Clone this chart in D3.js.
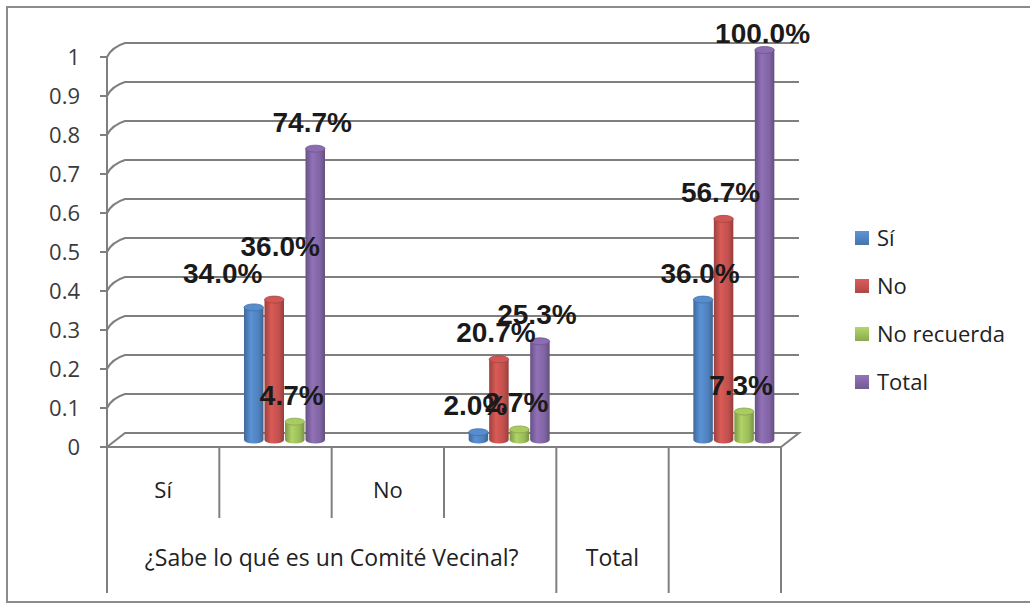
<!DOCTYPE html>
<html>
<head>
<meta charset="utf-8">
<script src="https://cdn.jsdelivr.net/npm/d3@7"></script>
<style>
  html, body { margin: 0; padding: 0; background: #fff; }
  svg { display: block; }
</style>
</head>
<body>
<svg id="chart" width="1030" height="606"></svg>
<script>
// Categories along the x axis (two-level axis: answer, then question group)
const categories = ["c1", "c2", "c3", "c4", "c5", "c6"];
const level1Labels = ["Sí", "", "No", "", "", ""];
const level2Groups = [
  { label: "¿Sabe lo qué es un Comité Vecinal?", from: 0, to: 3 },
  { label: "Total", from: 4, to: 4 },
  { label: "", from: 5, to: 5 }
];

// Series
const seriesNames = ["Sí", "No", "No recuerda", "Total"];
const seriesColors = ["#4f81bd", "#c0504d", "#9bbb59", "#8064a2"];

// Values per category (categories without data are null)
const valuesSi         = [null, 0.340, null, 0.020, null, 0.360];
const valuesNo         = [null, 0.360, null, 0.207, null, 0.567];
const valuesNoRecuerda = [null, 0.047, null, 0.027, null, 0.073];
const valuesTotal      = [null, 0.747, null, 0.253, null, 1.000];
const seriesValues = [valuesSi, valuesNo, valuesNoRecuerda, valuesTotal];

const yTicks = [0, 0.1, 0.2, 0.3, 0.4, 0.5, 0.6, 0.7, 0.8, 0.9, 1];
const yTickLabels = ["0", "0.1", "0.2", "0.3", "0.4", "0.5", "0.6", "0.7", "0.8", "0.9", "1"];

const svg = d3.select("#chart");

// Outer chart frame
svg.append("rect")
  .attr("x", 7).attr("y", 7).attr("width", 1040).attr("height", 595)
  .attr("fill", "#fff").attr("stroke", "#8c8c8c").attr("stroke-width", 2);

// 3D layout: front plane and depth offset
const depth = { dx: 18, dy: -14 };
const x = d3.scaleBand().domain(categories).range([107, 781]);
const y = d3.scaleLinear().domain([0, 1]).range([447, 57]);
const gridColor = "#7f7f7f";

// Walls: gridlines running over the side wall and the back wall
const grid = svg.append("g").attr("fill", "none").attr("stroke", gridColor).attr("stroke-width", 2);
yTicks.forEach(t => {
  if (t === 0) return;
  const yf = y(t);
  grid.append("path")
    .attr("d", `M${x.range()[0] - 7},${yf} L${x.range()[0]},${yf} Q${x.range()[0] + 5},${yf - 10} ${x.range()[0] + depth.dx},${yf + depth.dy} L${x.range()[1] + depth.dx},${yf + depth.dy}`);
});

// Floor
const x0 = x.range()[0], x1 = x.range()[1], yb = y(0);
svg.append("path")
  .attr("d", `M${x0},${yb} L${x0 + depth.dx},${yb + depth.dy} L${x1 + depth.dx},${yb + depth.dy} L${x1},${yb} Z`)
  .attr("fill", "#fff").attr("stroke", gridColor).attr("stroke-width", 2);
svg.append("line")
  .attr("x1", x0 - 7).attr("x2", x0).attr("y1", yb).attr("y2", yb)
  .attr("stroke", gridColor).attr("stroke-width", 2);

// Category axis dividers
const catAxis = svg.append("g").attr("stroke", gridColor).attr("stroke-width", 2);
const level1Bottom = 518, level2Bottom = 593;
const boundaries = categories.map(c => x(c)).concat([x1]);
boundaries.forEach((bx, i) => {
  const fullHeight = level2Groups.some(g => g.from === i || g.to + 1 === i) || i === 0 || i === categories.length;
  catAxis.append("line")
    .attr("x1", bx).attr("x2", bx)
    .attr("y1", yb).attr("y2", fullHeight ? level2Bottom : level1Bottom);
});
// Value axis line
svg.append("line")
  .attr("x1", x0).attr("x2", x0).attr("y1", y(1)).attr("y2", yb)
  .attr("stroke", gridColor).attr("stroke-width", 2);

const font = "'Open Sans', 'Liberation Sans', sans-serif";

// Value axis labels
svg.append("g").selectAll("text").data(yTicks).join("text")
  .attr("x", 80).attr("y", d => y(d) + 8)
  .attr("text-anchor", "end")
  .attr("font-family", font).attr("font-size", 22).attr("fill", "#3a3a3a")
  .text((d, i) => yTickLabels[i]);

// Category labels
svg.append("g").selectAll("text").data(categories).join("text")
  .attr("x", d => x(d) + x.bandwidth() / 2).attr("y", 498)
  .attr("text-anchor", "middle")
  .attr("font-family", font).attr("font-size", 22).attr("fill", "#222")
  .text((d, i) => level1Labels[i]);
svg.append("g").selectAll("text").data(level2Groups).join("text")
  .attr("x", g => (x(categories[g.from]) + x(categories[g.to]) + x.bandwidth()) / 2).attr("y", 566)
  .attr("text-anchor", "middle")
  .attr("font-family", font).attr("font-size", 23).attr("fill", "#222")
  .text(g => g.label);

// Cylinder gradients
const defs = svg.append("defs");
seriesColors.forEach((c, i) => {
  const base = d3.color(c);
  const g = defs.append("linearGradient").attr("id", "cyl" + i)
    .attr("x1", "0%").attr("x2", "100%").attr("y1", "0%").attr("y2", "0%");
  g.append("stop").attr("offset", "0%").attr("stop-color", base.darker(0.6));
  g.append("stop").attr("offset", "35%").attr("stop-color", base.brighter(0.35));
  g.append("stop").attr("offset", "75%").attr("stop-color", base);
  g.append("stop").attr("offset", "100%").attr("stop-color", base.darker(0.7));
  const lg = defs.append("linearGradient").attr("id", "leg" + i)
    .attr("x1", "0%").attr("x2", "0%").attr("y1", "0%").attr("y2", "100%");
  lg.append("stop").attr("offset", "0%").attr("stop-color", base.brighter(0.4));
  lg.append("stop").attr("offset", "100%").attr("stop-color", base.darker(0.3));
});

// Bars sit at mid-depth of the floor
const mid = { dx: depth.dx / 2, dy: depth.dy / 2 };
const xs = d3.scaleBand().domain(d3.range(seriesNames.length)).range([0, x.bandwidth()]).paddingOuter(0.74).paddingInner(0);
const ry = 3.5;

const bars = [];
categories.forEach((c, ci) => {
  seriesValues.forEach((vals, si) => {
    const v = vals[ci];
    if (v == null) return;
    bars.push({ ci, si, v, cx: x(c) + mid.dx + xs(si) + xs.bandwidth() / 2 });
  });
});

const barG = svg.append("g");
bars.forEach(b => {
  const w = xs.bandwidth() - 1;
  const top = y(b.v) + mid.dy;
  const bottom = y(0) + mid.dy;
  const g = barG.append("g");
  g.append("path")
    .attr("d", `M${b.cx - w / 2},${top} L${b.cx - w / 2},${bottom} A${w / 2},${ry} 0 0 0 ${b.cx + w / 2},${bottom} L${b.cx + w / 2},${top} Z`)
    .attr("fill", `url(#cyl${b.si})`);
  g.append("ellipse")
    .attr("cx", b.cx).attr("cy", top).attr("rx", w / 2).attr("ry", ry)
    .attr("fill", d3.color(seriesColors[b.si]).brighter(0.25))
    .attr("stroke", d3.color(seriesColors[b.si]).darker(0.4)).attr("stroke-width", 0.8);
});

// Data labels
const labelOffset = { dx: -3, dy: -27 };
const labelNudge = { "1-0": [-28, -7], "1-1": [9, -27], "5-3": [1, 10] };
svg.append("g").selectAll("text").data(bars).join("text")
  .attr("x", b => b.cx + labelOffset.dx + ((labelNudge[b.ci + "-" + b.si] || [0, 0])[0]))
  .attr("y", b => y(b.v) + mid.dy + labelOffset.dy + ((labelNudge[b.ci + "-" + b.si] || [0, 0])[1]) + 10)
  .attr("text-anchor", "middle")
  .attr("font-family", "'Liberation Sans', Arial, sans-serif").attr("font-weight", "bold")
  .attr("font-size", 28).attr("fill", "#1a1a1a")
  .text(b => d3.format(".1%")(b.v));

// Legend
const legend = svg.append("g");
seriesNames.forEach((name, i) => {
  const ly = 238 + i * 48;
  legend.append("rect")
    .attr("x", 855).attr("y", ly - 7).attr("width", 14).attr("height", 14)
    .attr("fill", `url(#leg${i})`);
  legend.append("text")
    .attr("x", 877).attr("y", ly + 8)
    .attr("font-family", font).attr("font-size", 22).attr("fill", "#222")
    .text(name);
});
</script>
</body>
</html>
